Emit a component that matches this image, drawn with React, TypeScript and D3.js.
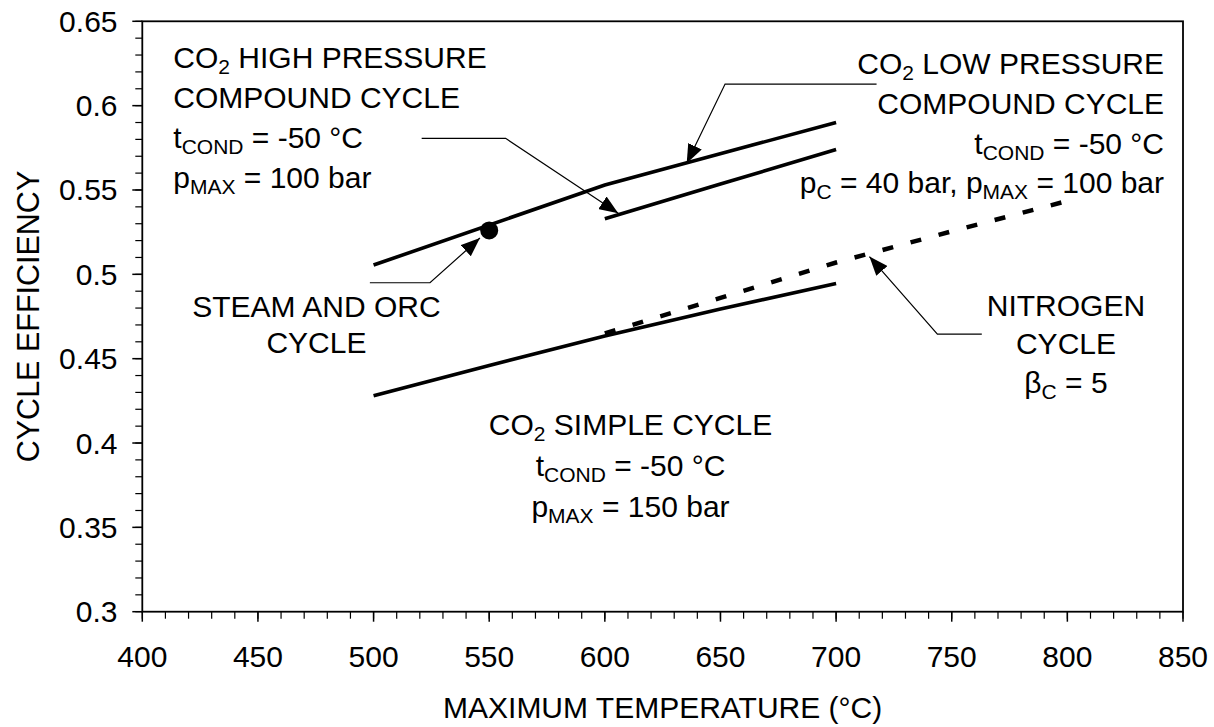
import React from 'react';
import * as d3 from 'd3';

// ---- data ----
const xTickValues = [400, 450, 500, 550, 600, 650, 700, 750, 800, 850];
const yTickValues = [0.3, 0.35, 0.4, 0.45, 0.5, 0.55, 0.6, 0.65];

// CO2 low pressure compound cycle (upper solid line, 500-700 °C)
const lpTemp = [500, 600, 700];
const lpEff = [0.5055, 0.553, 0.59];

// CO2 high pressure compound cycle (600-700 °C)
const hpTemp = [600, 650, 700];
const hpEff = [0.533, 0.5535, 0.574];

// CO2 simple cycle
const simpleTemp = [500, 550, 600, 650, 700];
const simpleEff = [0.428, 0.446, 0.4635, 0.4795, 0.4945];

// Nitrogen cycle (dashed)
const n2Temp = [600, 650, 700, 750, 800];
const n2Eff = [0.465, 0.486, 0.507, 0.5255, 0.5435];

// Steam and ORC cycle point
const steamTemp = [550];
const steamEff = [0.526];

// leader lines (data coordinates)
const leaderHigh = [[520.8, 0.5806], [557.1, 0.5806], [605.8, 0.5362]];
const leaderLow = [[717.5, 0.6128], [652, 0.6128], [635.4, 0.5658]];
const leaderSteam = [[498.4, 0.495], [524.4, 0.495], [546, 0.5215]];
const leaderN2 = [[763, 0.4646], [743.8, 0.4646], [714.4, 0.5105]];

type Seg = { t: string; sub?: boolean };
const blockHigh: Seg[][] = [
  [{ t: 'CO' }, { t: '2', sub: true }, { t: ' HIGH PRESSURE' }],
  [{ t: 'COMPOUND CYCLE' }],
  [{ t: 't' }, { t: 'COND', sub: true }, { t: ' = -50 °C' }],
  [{ t: 'p' }, { t: 'MAX', sub: true }, { t: ' = 100 bar' }],
];
const blockLow: Seg[][] = [
  [{ t: 'CO' }, { t: '2', sub: true }, { t: ' LOW PRESSURE' }],
  [{ t: 'COMPOUND CYCLE' }],
  [{ t: 't' }, { t: 'COND', sub: true }, { t: ' = -50 °C' }],
  [{ t: 'p' }, { t: 'C', sub: true }, { t: ' = 40 bar, p' }, { t: 'MAX', sub: true }, { t: ' = 100 bar' }],
];
const blockSteam: Seg[][] = [[{ t: 'STEAM AND ORC' }], [{ t: 'CYCLE' }]];
const blockSimple: Seg[][] = [
  [{ t: 'CO' }, { t: '2', sub: true }, { t: ' SIMPLE CYCLE' }],
  [{ t: 't' }, { t: 'COND', sub: true }, { t: ' = -50 °C' }],
  [{ t: 'p' }, { t: 'MAX', sub: true }, { t: ' = 150 bar' }],
];
const blockN2: Seg[][] = [
  [{ t: 'NITROGEN' }],
  [{ t: 'CYCLE' }],
  [{ t: 'β' }, { t: 'C', sub: true }, { t: ' = 5' }],
];

// ---- layout ----
const W = 1214;
const H = 727;
const plot = { left: 142.3, right: 1183, top: 21.3, bottom: 611.7 };
const FONT = "'Liberation Sans', Arial, Helvetica, sans-serif";

export default function App() {
  const x = d3.scaleLinear().domain([400, 850]).range([plot.left, plot.right]);
  const y = d3.scaleLinear().domain([0.3, 0.65]).range([plot.bottom, plot.top]);

  const line = d3
    .line<[number, number]>()
    .x((d) => x(d[0]))
    .y((d) => y(d[1]));

  const zip = (a: number[], b: number[]) => a.map((v, i) => [v, b[i]] as [number, number]);

  const xMinor = d3.range(400, 851, 10);
  const yMinor = d3.range(0, 36).map((i) => 0.3 + i * 0.01);

  const renderBlock = (
    key: string,
    lines: Seg[][],
    ax: number,
    ay: number,
    anchor: 'start' | 'middle' | 'end',
    spacing: number
  ) => (
    <g key={key}>
      {lines.map((segs, li) => {
        let off = 0;
        return (
          <text
            key={li}
            x={x(ax)}
            y={y(ay) + li * spacing}
            textAnchor={anchor}
            fontFamily={FONT}
            fontSize={30}
            fill="#000"
          >
            {segs.map((s, si) => {
              const target = s.sub ? 6 : 0;
              const dy = target - off;
              off = target;
              return (
                <tspan key={si} dy={dy} fontSize={s.sub ? 21 : 30}>
                  {s.t}
                </tspan>
              );
            })}
          </text>
        );
      })}
    </g>
  );

  const leader = (key: string, pts: number[][]) => (
    <path
      key={key}
      d={line(pts as [number, number][]) || ''}
      fill="none"
      stroke="#000"
      strokeWidth={1.2}
      markerEnd="url(#arrowHead)"
    />
  );

  return (
    <svg
      width={W}
      height={H}
      style={{ position: 'absolute', left: 0, top: 0, background: '#fff' }}
    >
      <defs>
        <marker
          id="arrowHead"
          viewBox="0 0 19 15"
          refX={19}
          refY={7.5}
          markerWidth={19}
          markerHeight={15}
          markerUnits="userSpaceOnUse"
          orient="auto"
        >
          <path d="M0,0 L19,7.5 L0,15 Z" fill="#000" />
        </marker>
      </defs>
      <rect x={0} y={0} width={W} height={H} fill="#fff" />

      {/* minor ticks */}
      {xMinor.map((v) => (
        <line key={'xm' + v} x1={x(v)} x2={x(v)} y1={plot.bottom} y2={plot.bottom + 7} stroke="#000" strokeWidth={1.2} />
      ))}
      {yMinor.map((v, i) => (
        <line key={'ym' + i} x1={plot.left - 7} x2={plot.left} y1={y(v)} y2={y(v)} stroke="#000" strokeWidth={1.2} />
      ))}
      {/* major ticks */}
      {xTickValues.map((v) => (
        <line key={'xt' + v} x1={x(v)} x2={x(v)} y1={plot.bottom} y2={plot.bottom + 10} stroke="#000" strokeWidth={1.5} />
      ))}
      {yTickValues.map((v) => (
        <line key={'yt' + v} x1={plot.left - 10} x2={plot.left} y1={y(v)} y2={y(v)} stroke="#000" strokeWidth={1.5} />
      ))}

      {/* frame */}
      <rect
        x={plot.left}
        y={plot.top}
        width={plot.right - plot.left}
        height={plot.bottom - plot.top}
        fill="none"
        stroke="#000"
        strokeWidth={1.8}
      />

      {/* tick labels */}
      {xTickValues.map((v) => (
        <text key={'xl' + v} x={x(v)} y={667} textAnchor="middle" fontFamily={FONT} fontSize={30}>
          {v}
        </text>
      ))}
      {yTickValues.map((v) => (
        <text key={'yl' + v} x={117.5} y={y(v) + 10.5} textAnchor="end" fontFamily={FONT} fontSize={30}>
          {String(v)}
        </text>
      ))}

      {/* axis titles */}
      <text x={(plot.left + plot.right) / 2} y={718} textAnchor="middle" fontFamily={FONT} fontSize={30}>
        MAXIMUM TEMPERATURE (°C)
      </text>
      <text
        transform={`translate(38.5, ${(plot.top + plot.bottom) / 2}) rotate(-90)`}
        textAnchor="middle"
        fontFamily={FONT}
        fontSize={30.5}
      >
        CYCLE EFFICIENCY
      </text>

      {/* data lines */}
      <path d={line(zip(lpTemp, lpEff)) || ''} fill="none" stroke="#000" strokeWidth={3.6} />
      <path d={line(zip(hpTemp, hpEff)) || ''} fill="none" stroke="#000" strokeWidth={3.6} />
      <path d={line(zip(simpleTemp, simpleEff)) || ''} fill="none" stroke="#000" strokeWidth={3.6} />
      <path
        d={line(zip(n2Temp, n2Eff)) || ''}
        fill="none"
        stroke="#000"
        strokeWidth={4.5}
        strokeDasharray="11,18"
      />
      {steamTemp.map((t, i) => (
        <circle key={'st' + i} cx={x(t)} cy={y(steamEff[i])} r={9} fill="#000" />
      ))}

      {/* leaders */}
      {leader('lh', leaderHigh)}
      {leader('ll', leaderLow)}
      {leader('ls', leaderSteam)}
      {leader('ln', leaderN2)}

      {/* annotation texts */}
      {renderBlock('bh', blockHigh, 413.4, 0.6221, 'start', 40)}
      {renderBlock('bl', blockLow, 841.8, 0.6188, 'end', 39.8)}
      {renderBlock('bs', blockSteam, 475.3, 0.4749, 'middle', 36.6)}
      {renderBlock('bsi', blockSimple, 611.1, 0.4048, 'middle', 40.8)}
      {renderBlock('bn', blockN2, 799.4, 0.4753, 'middle', 38.3)}
    </svg>
  );
}
